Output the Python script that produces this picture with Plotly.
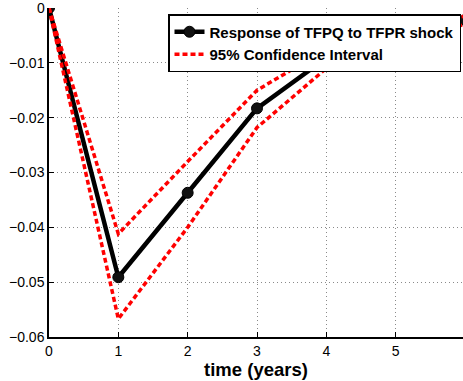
import plotly.graph_objects as go

t = [0, 1, 2, 3, 4, 5, 6]
response = [0.0, -0.0491, -0.0337, -0.0183, -0.0091, -0.0045, -0.0022]
ci_upper = [0.0, -0.0412, -0.0280, -0.0150, -0.0075, -0.0035, -0.0015]
ci_lower = [0.0, -0.0567, -0.0400, -0.0218, -0.0110, -0.0060, -0.0030]

ytick_vals = [0, -0.01, -0.02, -0.03, -0.04, -0.05, -0.06]
ytick_text = ["0", "\u22120.01", "\u22120.02", "\u22120.03", "\u22120.04", "\u22120.05", "\u22120.06"]
xtick_vals = [0, 1, 2, 3, 4, 5]

L, R_PX, T, B = 49, 465, 8, 337
W, H = 463, 381
xmax = 6 * (W - L) / (R_PX - L)
RED_DASH = "5px,3px"
GRID_DASH = "1px,3px"

fig = go.Figure()
fig.add_trace(go.Scatter(x=t, y=response, mode="lines+markers",
                         name="Response of TFPQ to TFPR shock",
                         line=dict(color="black", width=4.5),
                         marker=dict(symbol="circle", size=11, color="#111111",
                                     line=dict(color="black", width=1))))
fig.add_trace(go.Scatter(x=t, y=ci_upper, mode="lines", name="95% Confidence Interval",
                         line=dict(color="#ff0000", width=3.5, dash=RED_DASH)))
fig.add_trace(go.Scatter(x=t, y=ci_lower, mode="lines", showlegend=False,
                         line=dict(color="#ff0000", width=3.5, dash=RED_DASH)))

# "0" label at top of y axis and clipped "6" at the right edge
fig.add_annotation(x=0, y=0, xref="paper", yref="y", text="0", showarrow=False,
                   xanchor="right", xshift=-2, yshift=0, font=dict(size=14, color="black"))
fig.add_annotation(x=6, y=-0.06, xref="x", yref="y", text="6", showarrow=False,
                   yanchor="top", yshift=-2, font=dict(size=14, color="black"))

fig.update_layout(
    width=W, height=H,
    margin=dict(l=L, r=0, t=T, b=H - B, pad=0),
    paper_bgcolor="white", plot_bgcolor="white",
    font=dict(family="Liberation Sans, Arial, sans-serif", color="black", size=14),
    showlegend=True,
    legend=dict(x=(461 - L) / (W - L), y=1 - (14 - T) / (B - T), xanchor="right", yanchor="top",
                bgcolor="white", bordercolor="black", borderwidth=1.5,
                font=dict(size=15, family="Liberation Sans, Arial, sans-serif", weight="bold"),
                tracegroupgap=0, itemwidth=30),
    xaxis=dict(range=[0, xmax], tickvals=xtick_vals, ticks="inside", ticklen=5,
               tickcolor="black", showline=True, linecolor="black", linewidth=1.5,
               showgrid=True, gridcolor="#8a8a8a", griddash=GRID_DASH, gridwidth=1,
               zeroline=False, tickfont=dict(size=14),
               title=dict(text="<b>time (years)</b>", font=dict(size=18.5), standoff=2)),
    yaxis=dict(range=[-0.06, 0], tickvals=ytick_vals, ticktext=ytick_text,
               ticks="inside", ticklen=5, tickcolor="black", showline=True,
               linecolor="black", linewidth=1.5, showgrid=True, gridcolor="#8a8a8a",
               griddash=GRID_DASH, gridwidth=1, zeroline=False, tickfont=dict(size=14)),
)

fig.write_html("out.html")
